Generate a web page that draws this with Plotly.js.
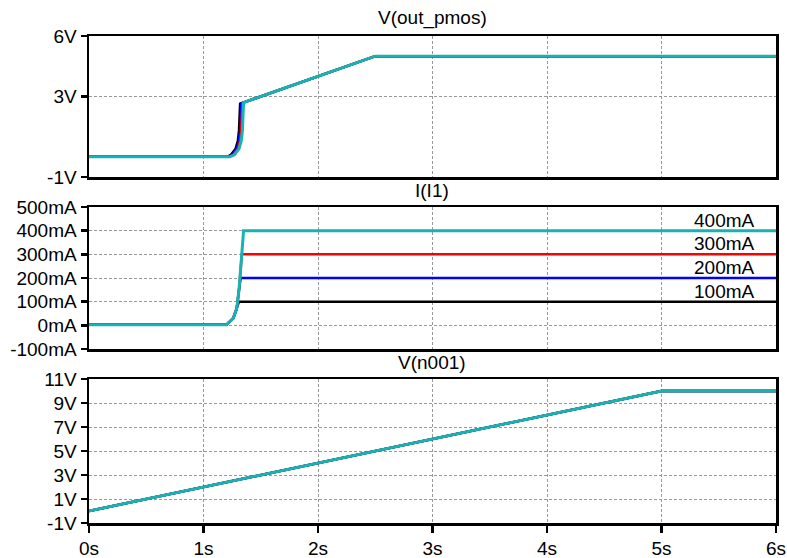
<!DOCTYPE html>
<html><head><meta charset="utf-8">
<script src="https://cdn.plot.ly/plotly-3.0.1.min.js"></script>
<style>html,body{margin:0;padding:0;background:#fff}</style>
</head><body><div id="chart" style="width:787px;height:558px"></div>
<script>
// Trace colours (step runs: 100mA, 200mA, 300mA, 400mA)
const runNames = ['100mA', '200mA', '300mA', '400mA'];
const runColors = ['#000000', '#0000ff', '#ff0000', '#17b3b3'];

// V(out_pmos)
const tOut100 = [0, 1.20, 1.24, 1.28, 1.30, 1.31, 1.315, 1.32, 1.36, 2.5, 6];
const vOut100 = [0, 0, 0.1, 0.4, 0.8, 1.3, 2.0, 2.64, 2.72, 5, 5];
const tOut200 = [0, 1.21, 1.25, 1.29, 1.31, 1.32, 1.325, 1.33, 1.36, 2.5, 6];
const vOut200 = [0, 0, 0.1, 0.4, 0.8, 1.3, 2.0, 2.66, 2.72, 5, 5];
const tOut300 = [0, 1.22, 1.26, 1.30, 1.32, 1.33, 1.335, 1.34, 1.36, 2.5, 6];
const vOut300 = [0, 0, 0.1, 0.4, 0.8, 1.3, 2.0, 2.68, 2.72, 5, 5];
const tOut400 = [0, 1.23, 1.27, 1.31, 1.33, 1.34, 1.345, 1.35, 1.36, 2.5, 6];
const vOut400 = [0, 0, 0.1, 0.4, 0.8, 1.3, 2.0, 2.68, 2.72, 5, 5];

// I(I1) in mA
const tI100 = [0, 0.3, 0.31, 0.85, 0.86, 1.2, 1.26, 1.29, 1.31, 6];
const iI100 = [2, 2, 0, 0, 2, 2, 30, 70, 100, 100];
const tI200 = [0, 0.3, 0.31, 0.85, 0.86, 1.2, 1.26, 1.29, 1.31, 1.325, 6];
const iI200 = [2, 2, 0, 0, 2, 2, 30, 70, 150, 200, 200];
const tI300 = [0, 0.3, 0.31, 0.85, 0.86, 1.2, 1.26, 1.29, 1.31, 1.335, 6];
const iI300 = [2, 2, 0, 0, 2, 2, 30, 70, 150, 300, 300];
const tI400 = [0, 0.3, 0.31, 0.85, 0.86, 1.2, 1.26, 1.29, 1.31, 1.335, 1.35, 6];
const iI400 = [2, 2, 0, 0, 2, 2, 30, 70, 150, 290, 400, 400];

// V(n001)
const tN = [0, 5, 6];
const vN = [0, 10, 10];

// Tick labels
const xTickVals = [0, 1, 2, 3, 4, 5, 6];
const xTickText = ['0s', '1s', '2s', '3s', '4s', '5s', '6s'];
const y1TickVals = [-1, 3, 6];
const y1TickText = ['-1V', '3V', '6V'];
const y2TickVals = [-100, 0, 100, 200, 300, 400, 500];
const y2TickText = ['-100mA', '0mA', '100mA', '200mA', '300mA', '400mA', '500mA'];
const y3TickVals = [-1, 1, 3, 5, 7, 9, 11];
const y3TickText = ['-1V', '1V', '3V', '5V', '7V', '9V', '11V'];
const labelValues = [100, 200, 300, 400];
const titles = ['V(out_pmos)', 'I(I1)', 'V(n001)'];

const outT = [tOut100, tOut200, tOut300, tOut400];
const outV = [vOut100, vOut200, vOut300, vOut400];
const curT = [tI100, tI200, tI300, tI400];
const curI = [iI100, iI200, iI300, iI400];

const traces = [];
for (let k = 0; k < 4; k++) {
  const w = k === 3 ? 3 : 2.5;
  traces.push({x: outT[k], y: outV[k], xaxis: 'x', yaxis: 'y', mode: 'lines',
    line: {color: runColors[k], width: w}, name: runNames[k], hoverinfo: 'skip'});
}
for (let k = 0; k < 4; k++) {
  const w = k === 3 ? 3 : 2.5;
  traces.push({x: curT[k], y: curI[k], xaxis: 'x2', yaxis: 'y2', mode: 'lines',
    line: {color: runColors[k], width: w}, name: runNames[k], hoverinfo: 'skip'});
}
for (let k = 0; k < 4; k++) {
  const w = k === 3 ? 3 : 2.5;
  traces.push({x: tN, y: vN, xaxis: 'x3', yaxis: 'y3', mode: 'lines',
    line: {color: runColors[k], width: w}, name: runNames[k], hoverinfo: 'skip'});
}

const FONT = 'Liberation Sans, Arial, sans-serif';
const W = 787, H = 558;
const xDom = [89 / W, 776 / W];
function yDom(top, bot) { return [(H - bot) / H, (H - top) / H]; }

function xAxis(showLabels) {
  return {
    domain: xDom, range: [0, 6], tickvals: xTickVals, ticktext: xTickText,
    showticklabels: showLabels, ticks: showLabels ? 'outside' : '', ticklen: 7, tickwidth: 2.5,
    tickcolor: '#000', showline: true, linecolor: '#000', linewidth: 2.5, mirror: true,
    showgrid: true, gridcolor: '#999', griddash: '3px,2px', gridwidth: 1, zeroline: false,
    tickfont: {family: FONT, size: 19, color: '#000'}, fixedrange: true
  };
}
function yAxis(dom, range, vals, text) {
  return {
    domain: dom, range: range, tickvals: vals, ticktext: text,
    ticks: 'outside', ticklen: 6, tickwidth: 2.5, tickcolor: '#000',
    showline: true, linecolor: '#000', linewidth: 2.5, mirror: true,
    showgrid: true, gridcolor: '#999', griddash: '3px,2px', gridwidth: 1, zeroline: false,
    tickfont: {family: FONT, size: 19, color: '#000'}, fixedrange: true
  };
}

const annotations = [];
const titleY = [18, 190, 362];
for (let i = 0; i < 3; i++) {
  annotations.push({xref: 'paper', yref: 'paper', x: (xDom[0] + xDom[1]) / 2,
    y: (H - titleY[i]) / H, xanchor: 'center', yanchor: 'middle', showarrow: false,
    text: titles[i], font: {family: FONT, size: 19, color: '#000'}});
}
for (let k = 0; k < 4; k++) {
  annotations.push({xref: 'x2', yref: 'y2', x: 5.83, y: labelValues[k], xanchor: 'right',
    yanchor: 'bottom', yshift: -2, showarrow: false, text: runNames[k],
    font: {family: FONT, size: 19, color: '#000'}});
}

const layout = {
  width: W, height: H, margin: {l: 0, r: 0, t: 0, b: 0},
  paper_bgcolor: '#fff', plot_bgcolor: '#fff', showlegend: false,
  xaxis: xAxis(false), xaxis2: xAxis(false), xaxis3: xAxis(true),
  yaxis: yAxis(yDom(36, 177), [-1, 6], y1TickVals, y1TickText),
  yaxis2: yAxis(yDom(207, 349), [-100, 500], y2TickVals, y2TickText),
  yaxis3: yAxis(yDom(379, 523), [-1, 11], y3TickVals, y3TickText),
  annotations: annotations
};
layout.xaxis.anchor = 'y';
layout.xaxis2.anchor = 'y2';
layout.xaxis3.anchor = 'y3';
layout.yaxis.anchor = 'x';
layout.yaxis2.anchor = 'x2';
layout.yaxis3.anchor = 'x3';

Plotly.newPlot('chart', traces, layout, {staticPlot: true, displayModeBar: false});
</script></body></html>
